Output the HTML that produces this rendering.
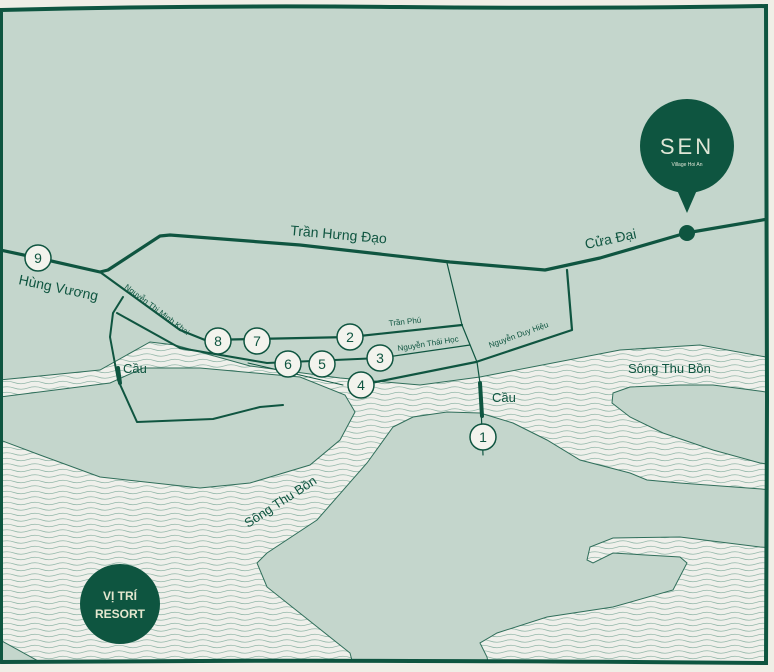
<!DOCTYPE html>
<html><head><meta charset="utf-8"><style>
html,body{margin:0;padding:0;background:#efeee6;}
svg{display:block;}
text{font-family:"Liberation Sans","DejaVu Sans",sans-serif;fill:#0f5540;}
</style></head><body>
<svg width="774" height="672" viewBox="0 0 774 672" xmlns="http://www.w3.org/2000/svg">
<defs>
<pattern id="w" width="28" height="5.5" patternUnits="userSpaceOnUse">
<rect width="28" height="5.5" fill="#eff0eb"/>
<path d="M0 3 Q7 0.5 14 3 T28 3" fill="none" stroke="#93b7a9" stroke-width="0.8"/>
</pattern>
<clipPath id="c"><rect x="2" y="8" width="763" height="654"/></clipPath>
</defs>
<rect width="774" height="672" fill="#efeee6"/>
<g clip-path="url(#c)">
<rect x="0" y="0" width="774" height="672" fill="url(#w)"/>
<g fill="#c4d6cc" stroke="#2f6e5a" stroke-width="1">
<path d="M0 0 L774 0 L774 357 L766 357 L700 345 L620 350 L480 377 L420 385 L340 378 L250 366 L175 345 L150 342 L100 370 L0 380 Z"/>
<path d="M0 397 L110 383 L143 368 L200 368 L300 377 L345 395 L355 412 L340 440 L310 465 L250 483 L200 488 L100 477 L40 455 L0 440 Z"/>
<path d="M393 427 L413 417 L447 412 L480 413 L513 423 L547 440 L580 460 L630 473 L647 480 L680 483 L774 490 L774 548 L760 547 L680 537 L613 538 L590 547 L587 560 L593 563 L613 553 L680 557 L687 563 L673 590 L613 607 L547 617 L497 633 L480 643 L487 657 L490 672 L355 672 L350 653 L267 587 L257 563 L267 553 L317 520 L367 463 Z"/>
<path d="M613 393 L630 387 L680 385 L713 385 L774 393 L774 465 L760 463 L713 450 L663 433 L630 417 L612 403 Z"/>
<path d="M0 640 L40 662 L0 672 Z"/>
</g>
<g fill="none" stroke="#0f5540" stroke-linecap="round" stroke-linejoin="round">
<path d="M0 250 L38 258 L100 272 L108 270 L160 236 L170 235 L300 245 L450 262 L545 270 L600 258 L686 233 L774 218" stroke-width="3.2"/>
<path d="M100 272 L180 330 L205 340 L350 337 L462 325" stroke-width="2.2"/>
<path d="M117 313 L180 348 L267 363 L380 358" stroke-width="2"/>
<path d="M380 358 L470 345" stroke-width="1.2"/>
<path d="M248 363 L343 385" stroke-width="1"/>
<path d="M361 385 L476 362 L572 330 L567 270" stroke-width="2.2"/>
<path d="M447 263 L462 325 L477 362 L480 383 L483 455" stroke-width="1.2"/>
<path d="M480 383 L482 416" stroke-width="4"/>
<path d="M123 297 L113 313 L110 337 L118 380 L137 422 L213 419 L260 407 L283 405" stroke-width="2"/>
<path d="M118 368 L120 383" stroke-width="4"/>
</g>
<g fill="#f3f3ed" stroke="#0f5540" stroke-width="1.5">
<circle cx="38" cy="258" r="13"/><circle cx="218" cy="341" r="13"/><circle cx="257" cy="341" r="13"/>
<circle cx="350" cy="337" r="13"/><circle cx="288" cy="364" r="13"/><circle cx="322" cy="364" r="13"/>
<circle cx="380" cy="358" r="13"/><circle cx="361" cy="385" r="13"/><circle cx="483" cy="437" r="13"/>
</g>
<g font-size="14" text-anchor="middle">
<text x="38" y="263">9</text><text x="218" y="346">8</text><text x="257" y="346">7</text>
<text x="350" y="342">2</text><text x="288" y="369">6</text><text x="322" y="369">5</text>
<text x="380" y="363">3</text><text x="361" y="390">4</text><text x="483" y="442">1</text>
</g>
<text x="290" y="235" font-size="14" transform="rotate(5 290 235)">Trần Hưng Đạo</text>
<text x="586" y="249" font-size="14" transform="rotate(-12 586 249)">Cửa Đại</text>
<text x="18" y="284" font-size="14" transform="rotate(12 18 284)">Hùng Vương</text>
<text x="124" y="288" font-size="8" transform="rotate(37 124 288)">Nguyễn Thị Minh Khai</text>
<text x="389" y="326" font-size="8" transform="rotate(-6 389 326)">Trần Phú</text>
<text x="398" y="351" font-size="8" transform="rotate(-9 398 351)">Nguyễn Thái Học</text>
<text x="490" y="348" font-size="8" transform="rotate(-20 490 348)">Nguyễn Duy Hiệu</text>
<text x="123" y="373" font-size="13">Cầu</text>
<text x="492" y="402" font-size="13">Cầu</text>
<text x="628" y="373" font-size="13">Sông Thu Bồn</text>
<text x="248" y="528" font-size="13" transform="rotate(-33 248 528)">Sông Thu Bồn</text>
<circle cx="687" cy="146" r="47" fill="#0e5540"/>
<path d="M677 190 L687 213 L697 190 Z" fill="#0e5540"/>
<circle cx="687" cy="233" r="8" fill="#0e5540"/>
<text x="687" y="154" font-size="22" text-anchor="middle" style="fill:#dfe6d6;letter-spacing:3px" font-family="Liberation Serif">SEN</text>
<text x="687" y="166" font-size="5" text-anchor="middle" style="fill:#dfe6d6">Village Hoi An</text>
<circle cx="120" cy="604" r="40" fill="#0e5540"/>
<text x="120" y="600" font-size="12" font-weight="bold" text-anchor="middle" style="fill:#e4e7cf">VỊ TRÍ</text>
<text x="120" y="618" font-size="12" font-weight="bold" text-anchor="middle" style="fill:#e4e7cf">RESORT</text>
</g>
<path d="M1 10 Q200 5 400 7 T766 6 L767 400 L766 663 Q400 660 200 661 T1 662 Z" fill="none" stroke="#0e5540" stroke-width="4"/>
</svg>
</body></html>
